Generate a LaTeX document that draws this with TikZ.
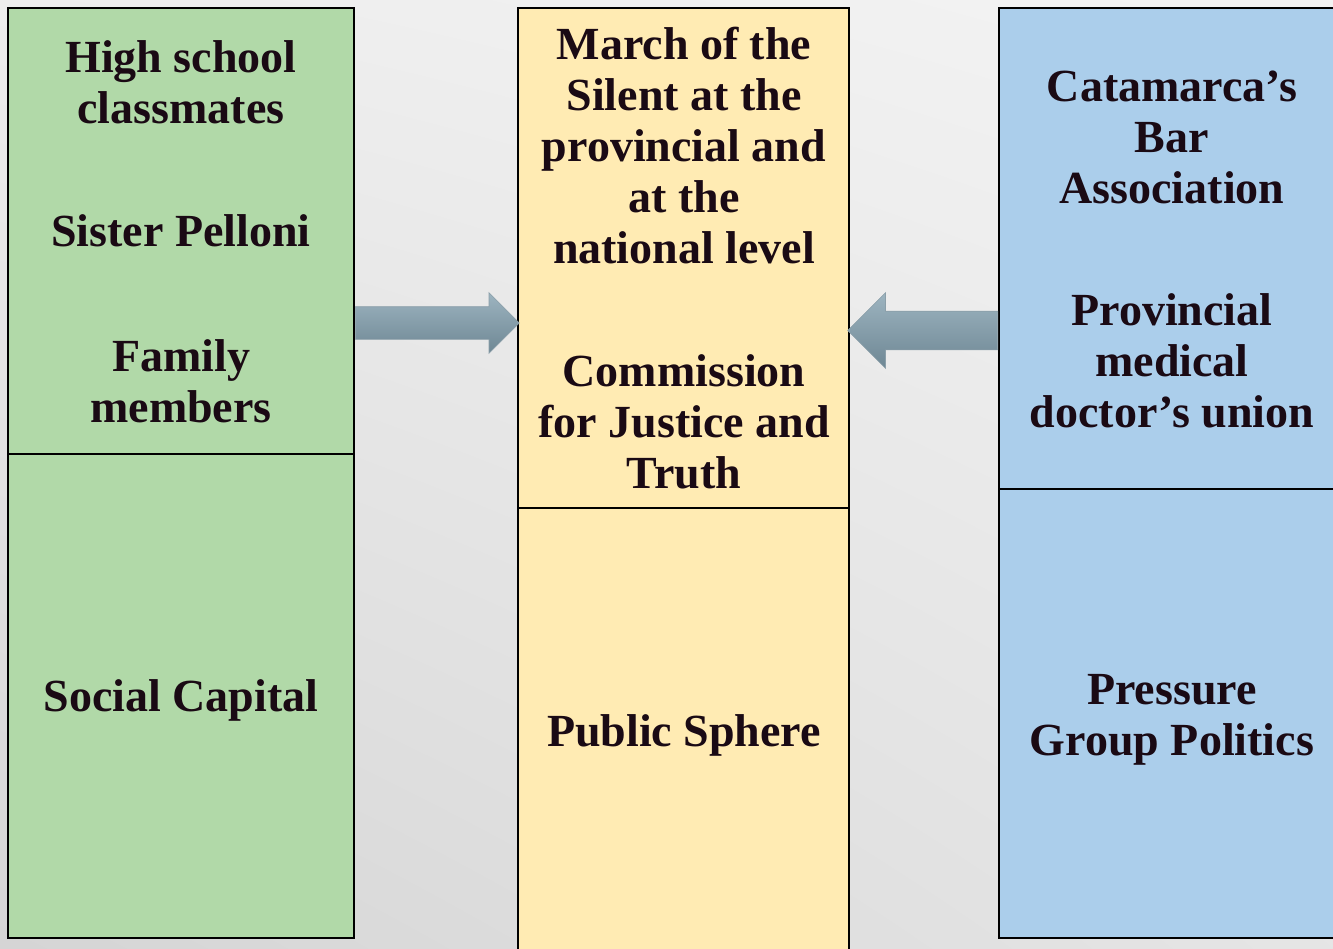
\documentclass[tikz,border=0pt]{standalone}
\usepackage{fontspec}
\setmainfont{Liberation Serif}
\usetikzlibrary{shapes.arrows,shadings}

\definecolor{capgreen}{HTML}{B1D9A8}
\definecolor{sphereyellow}{HTML}{FFEBB3}
\definecolor{groupblue}{HTML}{ABCEEB}
\definecolor{inktext}{HTML}{1A0A14}
\definecolor{steellight}{HTML}{9DB4C0}
\definecolor{steeldark}{HTML}{6E8794}

\begin{document}
\begin{tikzpicture}[x=0.5pt,y=-0.5pt,
    box/.style={draw=black,line width=1pt,rectangle,inner sep=0pt,minimum width=173pt},
    label/.style={align=center,text=inktext,font=\fontsize{23}{25.5}\selectfont\bfseries,inner sep=0pt},
    blockarrow/.style={single arrow,draw=steeldark!80,line width=0.3pt,top color=steellight,bottom color=steeldark,
        inner sep=0pt,single arrow tip angle=90,anchor=tail}]
        \useasboundingbox (0,0) rectangle (1333,948);
        \shade[upper left=gray!14,upper right=gray!9,lower left=gray!33,lower right=gray!20] (0,0) rectangle (1333,948);
        % three columns
        \node[box,fill=capgreen,minimum height=223pt] (capUp) at (181,231) {};
        \node[box,fill=capgreen,minimum height=242pt] (capLow) at (181,696) {};
        \node[box,fill=sphereyellow,minimum width=165.5pt,minimum height=250pt] (sphUp) at (683.5,258) {};
        \node[box,fill=sphereyellow,minimum width=165.5pt,minimum height=226pt] (sphLow) at (683.5,734) {};
        \node[box,fill=groupblue,minimum height=240.5pt] (grpUp) at (1172,248.5) {};
        \node[box,fill=groupblue,minimum height=224.5pt] (grpLow) at (1172,713.5) {};
        \node[label] (classmates) at (181,82) {High school\\classmates};
        \node[label] (pelloni) at (181,231) {Sister Pelloni};
        \node[label] (family) at (181,381) {Family\\members};
        \node[label] (social) at (181,700) {Social Capital};
        \node[label] (march) at (684,146) {March of the\\Silent at the\\provincial and\\at the\\national level};
        \node[label] (commission) at (684,422) {Commission\\for Justice and\\Truth};
        \node[label] (public) at (684,735) {Public Sphere};
        \node[label] (bar) at (1172,137) {Catamarca’s\\Bar\\Association};
        \node[label] (medical) at (1172,361) {Provincial\\medical\\doctor’s union};
        \node[label] (pressure) at (1172,720) {Pressure\\Group Politics};
        % arrows into the public sphere
        \node[blockarrow,minimum height=82pt,minimum width=30pt,single arrow head extend=7pt,text height=16pt] (arrowA) at (capUp.east |- 0,323) {};
        \node[blockarrow,minimum height=75pt,minimum width=37.5pt,single arrow head extend=9.25pt,text height=19pt,shape border rotate=180] (arrowB) at (grpUp.west |- 0,330.5) {};
    \end{tikzpicture}
\end{document}
